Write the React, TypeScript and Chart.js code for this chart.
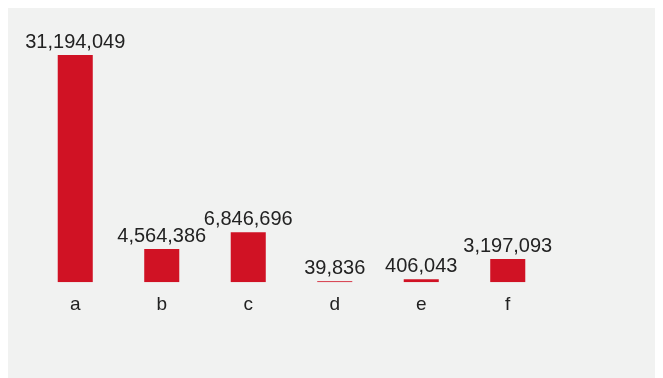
import React, { useEffect, useRef } from "react";
import { Chart, registerables } from "chart.js";

Chart.register(...registerables);

const categories = ["a", "b", "c", "d", "e", "f"];
const values = [31194049, 4564386, 6846696, 39836, 406043, 3197093];

const FONT = "'Liberation Sans', Arial, Helvetica, sans-serif";

const labelPlugin = {
  id: "valueLabels",
  afterDatasetsDraw(chart: any) {
    const ctx = chart.ctx;
    const meta = chart.getDatasetMeta(0);
    ctx.save();
    ctx.font = `20px ${FONT}`;
    ctx.fillStyle = "#222222";
    ctx.textAlign = "center";
    ctx.textBaseline = "alphabetic";
    meta.data.forEach((bar: any, i: number) => {
      const v = values[i];
      ctx.fillText(v.toLocaleString("en-US"), bar.x, bar.y - 7);
    });
    ctx.restore();
  },
};

export default function App() {
  const ref = useRef<HTMLCanvasElement>(null);
  useEffect(() => {
    if (!ref.current) return;
    const chart = new Chart(ref.current, {
      type: "bar",
      data: {
        labels: categories,
        datasets: [
          {
            data: values,
            backgroundColor: "#d01224",
            borderWidth: 0,
            categoryPercentage: 1,
            barPercentage: 0.405,
            minBarLength: 1,
          },
        ],
      },
      options: {
        responsive: false,
        animation: false,
        maintainAspectRatio: false,
        layout: { padding: { left: 24, right: 109, top: 47, bottom: 59 } },
        plugins: { legend: { display: false }, tooltip: { enabled: false } },
        scales: {
          x: {
            grid: { display: false },
            border: { display: false },
            ticks: { color: "#222222", font: { family: FONT, size: 19 }, padding: 3 },
          },
          y: {
            display: false,
            min: 0,
            max: 31194049,
          },
        },
      },
      plugins: [labelPlugin],
    });
    return () => chart.destroy();
  }, []);
  return (
    <div style={{ width: 652, height: 370, background: "#f1f2f1" }}>
      <canvas ref={ref} width={652} height={370} style={{ display: "block" }} />
    </div>
  );
}
